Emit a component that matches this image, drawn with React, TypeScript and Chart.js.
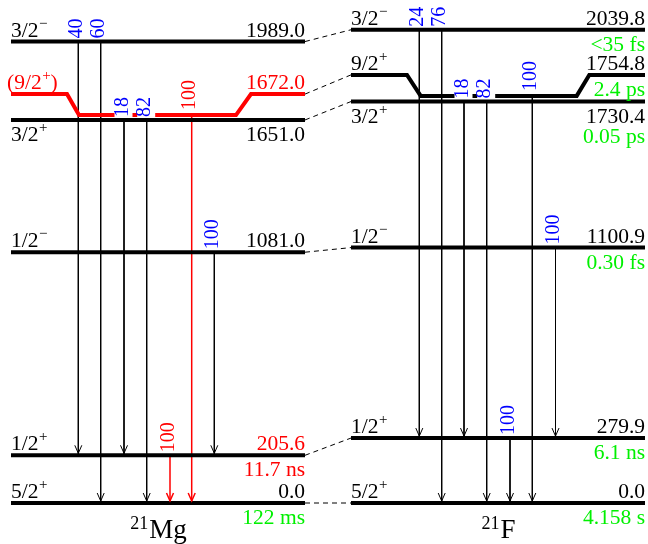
import { useEffect, useRef } from "react";
import { Chart, registerables } from "chart.js";
Chart.register(...registerables);

// ---------------- DATA ----------------
// 21Mg levels (keV)
const mgEnergies = [0.0, 205.6, 1081.0, 1651.0, 1672.0, 1989.0];
const mgSpins = ["5/2+", "1/2+", "1/2−", "3/2+", "(9/2+)", "3/2−"];
const mgHalfLives = ["122 ms", "11.7 ns", "", "", "", ""];
// 21F levels (keV)
const fEnergies = [0.0, 279.9, 1100.9, 1730.4, 1754.8, 2039.8];
const fSpins = ["5/2+", "1/2+", "1/2−", "3/2+", "9/2+", "3/2−"];
const fHalfLives = ["4.158 s", "6.1 ns", "0.30 fs", "0.05 ps", "2.4 ps", "<35 fs"];
// transitions (from level index -> to level index), relative intensities
const mgTransFrom = [5, 5, 3, 3, 4, 2, 1];
const mgTransTo = [1, 0, 1, 0, 0, 1, 0];
const mgIntensities = [40, 60, 18, 82, 100, 100, 100];
const fTransFrom = [5, 5, 3, 3, 4, 2, 1];
const fTransTo = [1, 0, 1, 0, 0, 1, 0];
const fIntensities = [24, 76, 18, 82, 100, 100, 100];
const nucleusNames = ["21Mg", "21F"];

// ---------------- LAYOUT ----------------
const PX_PER_KEV = 0.232;
const ZERO_PX = 503;
const H = 544;
const W = 648;
const Y_MAX = ZERO_PX / PX_PER_KEV;
const Y_MIN = (ZERO_PX - H) / PX_PER_KEV;
const RAISE = 21 / PX_PER_KEV; // ends of the bent (9/2+) level are drawn raised

const MG_X: [number, number] = [11, 305];
const F_X: [number, number] = [351, 645];
const MG_BEND = [67, 79, 236, 251];
const F_BEND = [407, 420.7, 576.7, 589.3];
const MG_ARROW_X = [78.3, 100.7, 124, 146.7, 191.7, 214.3, 170];
const F_ARROW_X = [419.3, 441.7, 464, 486.7, 532.3, 555.5, 510];
const BENT_INDEX = 4;
const BELOW_INDEX = 3;

const RED = "#ff0000";
const BLUE = "#0000ff";
const GREEN = "#00f000";
const FONT = '"Liberation Serif", "Times New Roman", serif';
const FS = 21.5;

type Nuc = {
  energies: number[];
  spins: string[];
  halfLives: string[];
  from: number[];
  to: number[];
  inten: number[];
  xr: [number, number];
  bend: number[];
  arrowX: number[];
  redLine: number[];
  redText: number[];
  name: string;
};

const nuclei: Nuc[] = [
  {
    energies: mgEnergies, spins: mgSpins, halfLives: mgHalfLives,
    from: mgTransFrom, to: mgTransTo, inten: mgIntensities,
    xr: MG_X, bend: MG_BEND, arrowX: MG_ARROW_X, redLine: [4], redText: [1, 4], name: nucleusNames[0],
  },
  {
    energies: fEnergies, spins: fSpins, halfLives: fHalfLives,
    from: fTransFrom, to: fTransTo, inten: fIntensities,
    xr: F_X, bend: F_BEND, arrowX: F_ARROW_X, redLine: [], redText: [], name: nucleusNames[1],
  },
];

function dispEnergy(n: Nuc, i: number) {
  return i === BENT_INDEX ? n.energies[i] + RAISE : n.energies[i];
}

function buildDatasets() {
  const ds: any[] = [];
  // levels (drawn on top)
  nuclei.forEach((n) => {
    n.energies.forEach((e, i) => {
      const red = n.redLine.includes(i);
      let data;
      if (i === BENT_INDEX) {
        const r = e + RAISE;
        data = [
          { x: n.xr[0], y: r }, { x: n.bend[0], y: r }, { x: n.bend[1], y: e },
          { x: n.bend[2], y: e }, { x: n.bend[3], y: r }, { x: n.xr[1], y: r },
        ];
      } else {
        data = [{ x: n.xr[0], y: e }, { x: n.xr[1], y: e }];
      }
      ds.push({
        data, borderColor: red ? RED : "#000", borderWidth: 4, showLine: true,
        pointRadius: 0, fill: false, order: 1, borderJoinStyle: "miter",
      });
    });
  });
  // dashed connectors
  nuclei[0].energies.forEach((_, i) => {
    ds.push({
      data: [
        { x: nuclei[0].xr[1], y: dispEnergy(nuclei[0], i) },
        { x: nuclei[1].xr[0], y: dispEnergy(nuclei[1], i) },
      ],
      borderColor: "#000", borderWidth: 1, borderDash: [5, 4], showLine: true,
      pointRadius: 0, fill: false, order: 2,
    });
  });
  // transitions
  nuclei.forEach((n) => {
    n.from.forEach((f, k) => {
      const red = n.redText.includes(f);
      ds.push({
        data: [{ x: n.arrowX[k], y: n.energies[f] }, { x: n.arrowX[k], y: n.energies[n.to[k]] }],
        borderColor: red ? RED : "#000", borderWidth: red ? 1.5 : 1, showLine: true,
        pointRadius: 0, fill: false, order: 3,
      });
    });
  });
  return ds;
}

// draw text where '+' and '−' are superscripts
function drawSpin(ctx: CanvasRenderingContext2D, s: string, x: number, y: number, color: string) {
  ctx.fillStyle = color;
  ctx.textAlign = "left";
  ctx.textBaseline = "alphabetic";
  let cx = x;
  for (const ch of s) {
    if (ch === "+" || ch === "−") {
      ctx.font = `15px ${FONT}`;
      ctx.fillText(ch, cx + 0.5, y - 9);
      cx += ctx.measureText(ch).width + 0.5;
    } else {
      ctx.font = `${FS}px ${FONT}`;
      ctx.fillText(ch, cx, y);
      cx += ctx.measureText(ch).width;
    }
  }
}

const labelPlugin = {
  id: "levelLabels",
  afterDatasetsDraw(chart: any) {
    const ctx: CanvasRenderingContext2D = chart.ctx;
    const xs = chart.scales.x;
    const ys = chart.scales.y;
    ctx.save();
    nuclei.forEach((n) => {
      // arrowheads and intensity labels
      n.from.forEach((f, k) => {
        const red = n.redText.includes(f);
        const x = xs.getPixelForValue(n.arrowX[k]);
        const yTo = ys.getPixelForValue(n.energies[n.to[k]]) - 2;
        ctx.strokeStyle = red ? RED : "#000";
        ctx.lineWidth = red ? 1.5 : 1;
        ctx.beginPath();
        ctx.moveTo(x - 3.5, yTo - 8);
        ctx.lineTo(x, yTo);
        ctx.lineTo(x + 3.5, yTo - 8);
        ctx.stroke();

        const yFrom = ys.getPixelForValue(n.energies[f]);
        const bottom = yFrom - (f === BENT_INDEX ? 5 : 3);
        const txt = String(n.inten[k]);
        ctx.font = `20px ${FONT}`;
        const w = ctx.measureText(txt).width;
        if (f === BELOW_INDEX) {
          ctx.fillStyle = "#fff";
          ctx.fillRect(x - 9.5, bottom - w - 1, 18, w + 1);
        }
        ctx.save();
        ctx.translate(x - 1.5, bottom);
        ctx.rotate(-Math.PI / 2);
        ctx.fillStyle = red ? RED : BLUE;
        ctx.textAlign = "left";
        ctx.textBaseline = "middle";
        ctx.fillText(txt, 0, 0);
        ctx.restore();
      });
      // level labels
      n.energies.forEach((e, i) => {
        const redL = n.redLine.includes(i);
        const redT = n.redText.includes(i);
        const y = ys.getPixelForValue(dispEnergy(n, i));
        const x0 = xs.getPixelForValue(n.xr[0]);
        const x1 = xs.getPixelForValue(n.xr[1]);
        const below = i === BELOW_INDEX;
        const base = below ? y + 21 : y - 5;
        drawSpin(ctx, n.spins[i], redL ? x0 - 4 : x0, base, redL ? RED : "#000");
        ctx.font = `${FS}px ${FONT}`;
        ctx.textAlign = "right";
        ctx.textBaseline = "alphabetic";
        ctx.fillStyle = redT ? RED : "#000";
        ctx.fillText(e.toFixed(1), x1, base);
        if (n.halfLives[i]) {
          ctx.fillStyle = redT ? RED : GREEN;
          ctx.fillText(n.halfLives[i], x1, below ? y + 41 : y + 21);
        }
      });
      // nucleus name
      const mass = n.name.match(/^\d+/)![0];
      const el = n.name.slice(mass.length);
      const cx = xs.getPixelForValue((n.xr[0] + n.xr[1]) / 2);
      ctx.textAlign = "left";
      ctx.textBaseline = "alphabetic";
      ctx.font = `18px ${FONT}`;
      const wm = ctx.measureText(mass).width;
      ctx.font = `27px ${FONT}`;
      const we = ctx.measureText(el).width;
      const start = cx - (wm + we) / 2;
      ctx.fillStyle = "#000";
      ctx.font = `18px ${FONT}`;
      ctx.fillText(mass, start, 529);
      ctx.font = `27px ${FONT}`;
      ctx.fillText(el, start + wm + 1, 538);
    });
    ctx.restore();
  },
};

export default function App() {
  const ref = useRef<HTMLCanvasElement | null>(null);
  useEffect(() => {
    document.body.style.margin = "0";
    const chart = new Chart(ref.current!, {
      type: "scatter",
      data: { datasets: buildDatasets() },
      options: {
        animation: false,
        responsive: false,
        maintainAspectRatio: false,
        layout: { padding: 0 },
        plugins: { legend: { display: false }, tooltip: { enabled: false } },
        scales: {
          x: { type: "linear", min: 0, max: W, display: false },
          y: { type: "linear", min: Y_MIN, max: Y_MAX, display: false },
        },
      },
      plugins: [labelPlugin],
    });
    return () => chart.destroy();
  }, []);
  return (
    <div style={{ position: "absolute", left: 0, top: 0, width: W, height: H, background: "#fff" }}>
      <canvas ref={ref} width={W} height={H} style={{ width: W, height: H }} />
    </div>
  );
}
